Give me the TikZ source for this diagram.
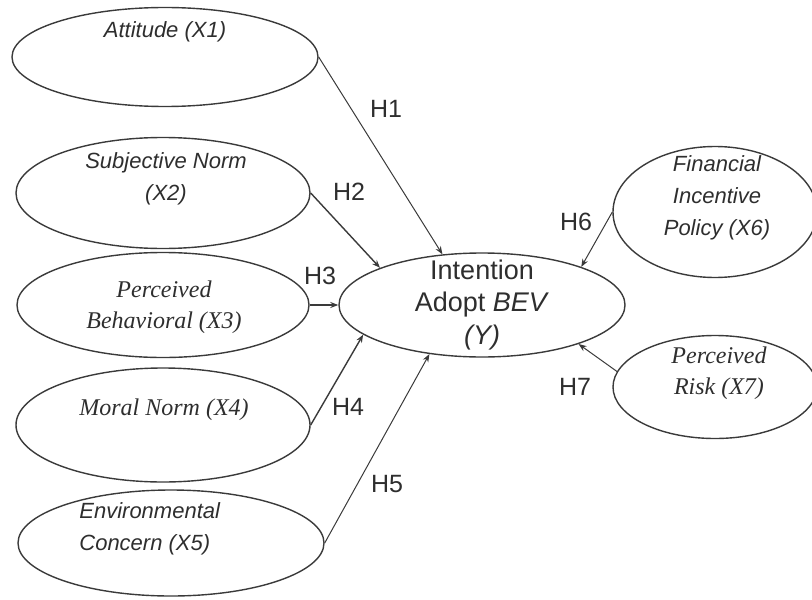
\documentclass[tikz,border=0pt]{standalone}
\usepackage{fontspec}
\setmainfont{Liberation Serif}
\setsansfont{Liberation Sans}
\usepackage{tikz}
\usetikzlibrary{arrows.meta, shapes.geometric}
\usepackage{xcolor}
\definecolor{InkGrey}{HTML}{2E2E2E}
\definecolor{LineGrey}{HTML}{3A3A3A}

\begin{document}
\begin{tikzpicture}[
    x=0.5pt, y=-0.5pt,
    latent/.style={ellipse, draw=LineGrey, line width=0.7pt, inner sep=0pt},
    sanslbl/.style={font=\fontsize{11}{16}\selectfont\sffamily\itshape, InkGrey,
        align=center, inner sep=0pt},
    seriflbl/.style={font=\fontsize{12}{15.5}\selectfont\rmfamily\itshape, InkGrey,
        align=center, inner sep=0pt},
    hyplbl/.style={font=\fontsize{12.5}{15}\selectfont\sffamily, InkGrey, inner sep=0pt},
    hyparrow/.style={LineGrey, line width=0.5pt, -{Stealth[length=4pt, width=3pt]}}
]
\useasboundingbox (0,0) rectangle (812,599);

% =============================================
% LEFT: predictors X1 - X5
% =============================================
\node[latent, minimum width=153pt, minimum height=49.5pt] (x1) at (165,57) {};
\node[sanslbl] (t1) at (165,32) {Attitude (X1)};

\node[latent, minimum width=147pt, minimum height=55.5pt] (x2) at (163,193) {};
\node[sanslbl] (t2) at (166,179) {Subjective Norm\\(X2)};

\node[latent, minimum width=146pt, minimum height=52.5pt] (x3) at (163,305) {};
\node[seriflbl] (t3) at (164,307) {Perceived\\Behavioral (X3)};

\node[latent, minimum width=147pt, minimum height=57pt] (x4) at (163,425) {};
\node[seriflbl] (t4) at (164,410) {Moral Norm (X4)};

\node[latent, minimum width=153pt, minimum height=53pt] (x5) at (171,543) {};
\node[sanslbl, align=left, anchor=west] (t5) at (79,529) {Environmental\\Concern (X5)};

% =============================================
% CENTRE: outcome Y
% =============================================
\node[latent, minimum width=143pt, minimum height=52pt] (y) at (482,305) {};
\node[font=\fontsize{13.5}{16.3}\selectfont\sffamily, InkGrey, align=center,
    inner sep=0pt] (ty) at (482,305) {Intention\\Adopt \textit{BEV}\\\textit{(Y)}};

% =============================================
% RIGHT: predictors X6, X7
% =============================================
\node[latent, minimum width=102pt, minimum height=65.5pt] (x6) at (715,212) {};
\node[sanslbl] (t6) at (717,198) {Financial\\Incentive\\Policy (X6)};

\node[latent, minimum width=102pt, minimum height=51.5pt] (x7) at (715,387) {};
\node[seriflbl] (t7) at (719,373) {Perceived\\Risk (X7)};

% hypothesis paths
\draw[hyparrow] (x1.east) -- (y.128);
\draw[hyparrow, line width=0.7pt] (x2.east) -- (y.160);
\draw[hyparrow, line width=0.7pt] (x3.east) -- (y.west);
\draw[hyparrow, line width=0.7pt] (x4.east) -- (y.194);
\draw[hyparrow] (x5.east) -- (y.223);
\draw[hyparrow] (x6.west) -- (y.21);
\draw[hyparrow] (x7.171) -- (y.338);

\node[hyplbl] (h1) at (386,109) {H1};
\node[hyplbl] (h2) at (349,192) {H2};
\node[hyplbl] (h3) at (320,276) {H3};
\node[hyplbl] (h4) at (348,407) {H4};
\node[hyplbl] (h5) at (387,484) {H5};
\node[hyplbl] (h6) at (576,222) {H6};
\node[hyplbl] (h7) at (575,387) {H7};

\end{tikzpicture}
\end{document}
